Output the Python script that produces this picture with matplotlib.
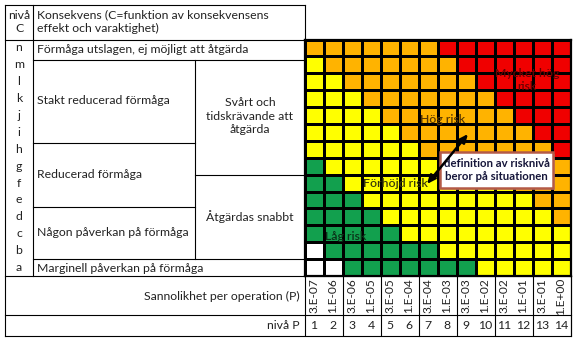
import numpy as np
import matplotlib
matplotlib.use('Agg')
import matplotlib.pyplot as plt
from matplotlib import transforms
from matplotlib.colors import ListedColormap
from matplotlib.patches import Rectangle

plt.rcParams['font.family'] = ['Lato', 'DejaVu Sans']
FS = 8.8

# nivå C från botten (a) till toppen (n)
niva_c = list('abcdefghijklmn')
niva_p = list(range(1, 15))
sannolikhet = ['3.E-07', '1.E-06', '3.E-06', '1.E-05', '3.E-05', '1.E-04', '3.E-04',
               '1.E-03', '3.E-03', '1.E-02', '3.E-02', '1.E-01', '3.E-01', '1.E+00']

# riskklass per cell, rad a..n, kolumn P=1..14
# W=ingen, G=låg, Y=förhöjd, O=hög, R=mycket hög
risk_rows = [
    'WWGGGGGGGYYYYY',  # a
    'WGGGGGGYYYYYYY',  # b
    'GGGGGYYYYYYYYY',  # c
    'GGGGYYYYYYYYYO',  # d
    'GGGYYYYYYYYYOO',  # e
    'GGYYYYYYYYYOOO',  # f
    'GYYYYYYYOOOOOO',  # g
    'YYYYYYOOOOOOOR',  # h
    'YYYYYOOOOOOORR',  # i
    'YYYYOOOOOOORRR',  # j
    'YYYOOOOOOORRRR',  # k
    'YYOOOOOOORRRRR',  # l
    'YOOOOOOORRRRRR',  # m
    'OOOOOOORRRRRRR',  # n
]
klasser = 'WGYOR'
klass_farg = ['#FFFFFF', '#12A04E', '#FFFF00', '#FFB300', '#F00000']

W, H = 575, 339
gx0, gx1, gy0, gy1 = 304.5, 570.5, 39.5, 276   # rutnätets kant i pixlar

fig = plt.figure(figsize=(W / 100, H / 100), dpi=100)
ax = fig.add_axes([gx0 / W, 1 - gy1 / H, (gx1 - gx0) / W, (gy1 - gy0) / H])
bg = fig.add_axes([0, 0, 1, 1])
bg.set_zorder(2)
bg.patch.set_visible(False)
bg.set_xlim(0, W)
bg.set_ylim(H, 0)
bg.axis('off')

# riskmatris
Z = np.array([[klasser.index(c) for c in rad] for rad in risk_rows])
ax.pcolormesh(np.arange(15), np.arange(15), Z, cmap=ListedColormap(klass_farg),
              vmin=-0.5, vmax=4.5, edgecolors='black', linewidth=0.9, zorder=1)
ax.set_xlim(0, 14)
ax.set_ylim(0, 14)
ax.set_xticks([])
ax.set_yticks([])
for s in ax.spines.values():
    s.set_linewidth(1.6)

lab_kw = dict(ha='center', va='center', fontsize=FS, fontweight='semibold', zorder=6)
ax.text(11.7, 11.6, 'Mycket hög\nrisk', color='#6A0000', linespacing=1.3, **lab_kw)
ax.text(7.26, 9.25, 'Hög risk', color='#5A3800', **lab_kw)
ax.text(4.79, 5.5, 'Förhöjd risk', color='#3A3A0A', **lab_kw)
ax.text(2.18, 2.31, 'Låg risk', color='#0A3318', **lab_kw)

# axeltexter
tr_c = transforms.blended_transform_factory(bg.transData, ax.transData)
for i, lab in enumerate(niva_c):
    ax.text(19, i + 0.5, lab, transform=tr_c, ha='center', va='center', fontsize=FS,
            color='#222222')

tr_p = transforms.blended_transform_factory(ax.transData, bg.transData)
for i, lab in enumerate(sannolikhet):
    ax.text(i + 0.5, 296, lab, transform=tr_p, rotation=90, ha='center', va='center',
            fontsize=FS - 0.2, color='#222222')
for i, n in enumerate(niva_p):
    ax.text(i + 0.5, 325.5, str(n), transform=tr_p, ha='center', va='center',
            fontsize=FS, color='#222222')
ax.vlines(np.arange(0, 15, 2), 276, 336, transform=tr_p, colors='black',
          linewidth=0.8, clip_on=False)

# tabellramar
lw = 0.8
bg.plot([5, 5], [5, 336], color='black', lw=lw)
bg.plot([5, 304.5], [5, 5], color='black', lw=lw)
bg.plot([304.5, 304.5], [5, 40], color='black', lw=lw)
bg.plot([33, 33], [5, 276], color='black', lw=lw)
bg.plot([5, 304.5], [39.5, 39.5], color='black', lw=lw)
bg.plot([33, 304.5], [59.5, 59.5], color='black', lw=lw)
bg.plot([195, 195], [59.5, 259], color='black', lw=lw)
bg.plot([33, 195], [143, 143], color='black', lw=lw)
bg.plot([195, 304.5], [175, 175], color='black', lw=lw)
bg.plot([33, 195], [207, 207], color='black', lw=lw)
bg.plot([33, 304.5], [259, 259], color='black', lw=lw)
bg.plot([5, 570.5], [276, 276], color='black', lw=lw)
bg.plot([5, 570.5], [314.5, 314.5], color='black', lw=lw)
bg.plot([5, 570.5], [336, 336], color='black', lw=lw)
bg.plot([570.5, 570.5], [276, 336], color='black', lw=lw)

txt = dict(fontsize=FS, color='#222222', va='center')
bg.text(19, 22, 'nivå\nC', ha='center', linespacing=1.3, **txt)
bg.text(37, 22, 'Konsekvens (C=funktion av konsekvensens\neffekt och varaktighet)',
        ha='left', linespacing=1.3, **txt)
bg.text(37, 49.5, 'Förmåga utslagen, ej möjligt att åtgärda', ha='left', **txt)
bg.text(37, 101, 'Stakt reducerad förmåga', ha='left', **txt)
bg.text(250, 116, 'Svårt och\ntidskrävande att\nåtgärda', ha='center', linespacing=1.25, **txt)
bg.text(37, 175, 'Reducerad förmåga', ha='left', **txt)
bg.text(250, 217, 'Åtgärdas snabbt', ha='center', **txt)
bg.text(37, 233, 'Någon påverkan på förmåga', ha='left', **txt)
bg.text(37, 268, 'Marginell påverkan på förmåga', ha='left', **txt)
bg.text(300, 296, 'Sannolikhet per operation (P)', ha='right', **txt)
bg.text(300, 325.5, 'nivå P', ha='right', **txt)

# förklaringsruta med dubbelpil
bg.add_patch(Rectangle((442, 154), 113, 36, fc='#C9A59A', ec='none', alpha=0.5))
bg.add_patch(Rectangle((440, 152), 113, 36, fc='white', ec='#B45A46', lw=1.8))
bg.text(496.5, 170, 'definition av risknivå\nberor på situationen', ha='center', va='center',
        fontsize=FS - 0.6, fontweight='bold', color='#16163A', linespacing=1.3)
bg.annotate('', xy=(468, 134), xytext=(427, 184),
            arrowprops=dict(arrowstyle='<|-|>,head_length=0.5,head_width=0.22',
                            color='black', lw=1.8, shrinkA=0, shrinkB=0))

fig.savefig('out.png', dpi=100, facecolor='white')
